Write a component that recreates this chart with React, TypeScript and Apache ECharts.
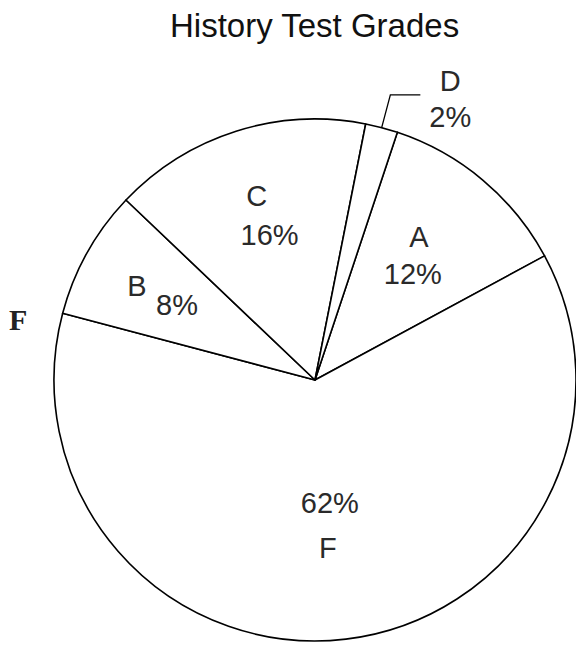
import React, { useEffect, useRef } from 'react';
import * as echarts from 'echarts';

// ---- data (in drawing order, clockwise from the A/D boundary) ----
const TITLE = 'History Test Grades';
const STRAY_LABEL = 'F';
const grades = ['A', 'F', 'B', 'C', 'D'];
const percents = [12, 62, 8, 16, 2];

// ---- styling ----
const FONT = 'Liberation Sans, Arial, Helvetica, sans-serif';
const LABEL_SIZE = 29;
const LABEL_COLOR = '#2a2a2a';

// per-slice label arrangement (rich text, shift from the default inside position)
const labelStyles: Record<string, any> = {
  A: {
    order: ['nm', 'pc'],
    rich: { nm: { lineHeight: 37, padding: [0, 0, 0, 12] }, pc: { lineHeight: 37 } },
    shift: [12, -22],
  },
  F: {
    order: ['pc', 'nm'],
    rich: { pc: { lineHeight: 45 }, nm: { lineHeight: 45, padding: [0, 4, 0, 0] } },
    shift: [-1, 13],
  },
  B: {
    order: ['nm', 'pc'],
    rich: { nm: { lineHeight: 19, padding: [0, 60, 0, 0] }, pc: { lineHeight: 19, padding: [0, 0, 0, 20] } },
    shift: [-31.5, -19.5],
  },
  C: {
    order: ['nm', 'pc'],
    rich: { nm: { lineHeight: 39, padding: [0, 26, 0, 0] }, pc: { lineHeight: 39 } },
    shift: [-5, -37],
  },
  D: {
    order: ['nm', 'pc'],
    rich: { nm: { lineHeight: 36, align: 'center' }, pc: { lineHeight: 36, align: 'center' } },
    outside: true,
  },
};

export default function App() {
  const ref = useRef<HTMLDivElement>(null);

  useEffect(() => {
    if (!ref.current) return;
    const chart = echarts.init(ref.current, null, { renderer: 'svg' });

    const data = grades.map((g, i) => {
      const ls = labelStyles[g];
      const rich: Record<string, any> = {};
      Object.keys(ls.rich).forEach((k) => {
        rich[k] = { fontFamily: FONT, fontSize: LABEL_SIZE, color: LABEL_COLOR, ...ls.rich[k] };
      });
      const item: any = {
        name: g,
        value: percents[i],
        label: {
          formatter: (p: any) =>
            ls.order.map((k: string) => (k === 'nm' ? `{nm|${p.name}}` : `{pc|${p.value}%}`)).join('\n'),
          rich,
        },
      };
      if (ls.outside) {
        item.label.position = 'outside';
        item.label.distanceToLabelLine = 9;
        item.label.padding = [8, 0, 0, 0];
        item.labelLine = {
          show: true,
          length: 34,
          length2: 30,
          smooth: false,
          lineStyle: { color: '#000', width: 1.3 },
        };
      } else {
        item.labelLine = { show: false };
      }
      return item;
    });

    chart.setOption({
      animation: false,
      backgroundColor: '#fff',
      title: [
        {
          text: TITLE,
          left: 165,
          top: 4,
          textStyle: { fontFamily: FONT, fontSize: 33, fontWeight: 'normal', color: '#111' },
        },
        {
          text: STRAY_LABEL,
          left: 4,
          top: 299,
          textStyle: {
            fontFamily: 'Liberation Serif, Times New Roman, serif',
            fontSize: 30,
            fontWeight: 'bold',
            color: '#222',
          },
        },
      ],
      series: [
        {
          type: 'pie',
          center: [315, 380],
          radius: [0, 261],
          startAngle: 71.6,
          clockwise: true,
          avoidLabelOverlap: false,
          silent: true,
          emphasis: { disabled: true, scale: false },
          itemStyle: { color: '#fff', borderColor: '#000', borderWidth: 1.6 },
          label: {
            show: true,
            position: 'inside',
            fontFamily: FONT,
            fontSize: LABEL_SIZE,
            color: LABEL_COLOR,
          },
          labelLayout: (params: any) => {
            const ls = labelStyles[grades[params.dataIndex]];
            if (!ls || !ls.shift) return {};
            return { dx: ls.shift[0], dy: ls.shift[1] };
          },
          data,
        },
      ],
    });

    return () => chart.dispose();
  }, []);

  return (
    <div
      ref={ref}
      style={{ position: 'absolute', left: 0, top: 0, width: 576, height: 647 }}
    />
  );
}
